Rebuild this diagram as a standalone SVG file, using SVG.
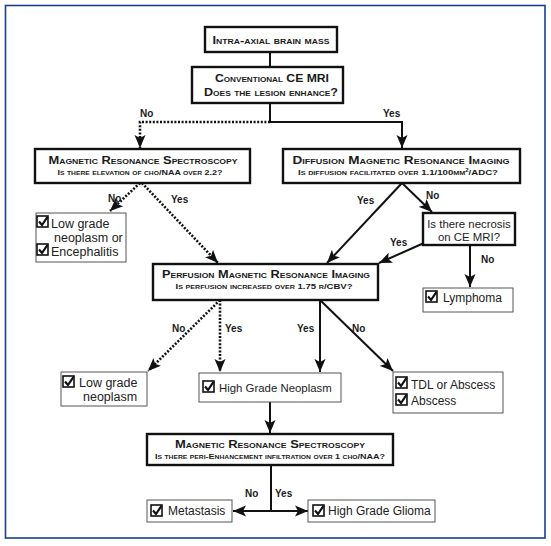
<svg xmlns="http://www.w3.org/2000/svg" width="551" height="546" viewBox="0 0 551 546">
<style>
.frame{fill:#fff;stroke:#1a3f8f;stroke-width:1.6}
.dec{fill:#fff;stroke:#111;stroke-width:2.4}
.leaf{fill:#fff;stroke:#555;stroke-width:1}
.h{font-family:"Liberation Sans",Arial,sans-serif;font-weight:bold;font-variant:small-caps;fill:#1a1a1a;text-anchor:middle}
.t1{font-size:10.5px}
.t2{font-size:8px}
.r{font-family:"Liberation Sans",Arial,sans-serif;font-size:12px;fill:#222}
.rl{font-size:12.5px}
.rs{font-size:11.4px}
.lab{font-family:"Liberation Sans",Arial,sans-serif;font-size:10px;font-weight:bold;fill:#1a1a1a}
.s{fill:none;stroke:#111;stroke-width:2}
.d{fill:none;stroke:#111;stroke-width:2.6;stroke-dasharray:2 1.6}
.cb{fill:#fff;stroke:#111;stroke-width:1.6}
.ck{fill:none;stroke:#111;stroke-width:2.2;stroke-linejoin:miter}
</style>
<defs>
<marker id="ah" markerUnits="userSpaceOnUse" markerWidth="14" markerHeight="12" viewBox="0 0 14 12" refX="13" refY="6" orient="auto">
<path d="M0,0.5 L13,6 L0,11.5 L3,6 Z" fill="#111"/>
</marker>
<g id="chk">
<rect class="cb" x="0" y="0" width="11" height="11"/>
<path class="ck" d="M2,5.5 L5,9 L10.5,0.8"/>
</g>
</defs>
<rect class="frame" x="5.5" y="5.5" width="539.5" height="532.5"/>

<g id="connectors">
<path class="s" d="M270,52 V67"/>
<path class="s" d="M270,103 V122 H402 V148" marker-end="url(#ah)"/>
<path class="d" d="M270,122 H140 V148" marker-end="url(#ah)"/>
<path class="d" d="M140,183 L110,211" marker-end="url(#ah)"/>
<path class="d" d="M142,183 L218,263" marker-end="url(#ah)"/>
<path class="s" d="M402,183 L327,263" marker-end="url(#ah)"/>
<path class="s" d="M402,183 L432,212" marker-end="url(#ah)"/>
<path class="s" d="M424,243 L379,263" marker-end="url(#ah)"/>
<path class="s" d="M470,245 V287" marker-end="url(#ah)"/>
<path class="d" d="M220,300 L148,371" marker-end="url(#ah)"/>
<path class="d" d="M220,300 V372" marker-end="url(#ah)"/>
<path class="s" d="M320,300 V372" marker-end="url(#ah)"/>
<path class="s" d="M320,300 L393,371" marker-end="url(#ah)"/>
<path class="s" d="M270,402 V433" marker-end="url(#ah)"/>
<path class="s" d="M271,465 V511"/>
<path class="s" d="M271,511 H233" marker-end="url(#ah)"/>
<path class="s" d="M271,511 H308" marker-end="url(#ah)"/>
<text class="lab" x="140" y="117">No</text>
<text class="lab" x="383" y="117">Yes</text>
<text class="lab" x="108" y="202">No</text>
<text class="lab" x="171" y="203">Yes</text>
<text class="lab" x="357" y="204">Yes</text>
<text class="lab" x="426" y="199">No</text>
<text class="lab" x="390" y="246">Yes</text>
<text class="lab" x="481" y="263">No</text>
<text class="lab" x="172" y="332">No</text>
<text class="lab" x="225" y="332">Yes</text>
<text class="lab" x="297" y="332">Yes</text>
<text class="lab" x="352" y="332">No</text>
<text class="lab" x="245" y="497">No</text>
<text class="lab" x="275" y="497">Yes</text>
</g>

<g id="n-mass">
<rect class="dec" x="205" y="27" width="132" height="25"/>
<text class="h t1" x="271" y="44" textLength="117" lengthAdjust="spacingAndGlyphs">Intra-axial brain mass</text>
</g>
<g id="n-cemri">
<rect class="dec" x="192" y="67" width="151" height="36"/>
<text class="h t1" x="272" y="82" textLength="114" lengthAdjust="spacingAndGlyphs">Conventional CE MRI</text>
<text class="h t1" x="271" y="96" textLength="134" lengthAdjust="spacingAndGlyphs">Does the lesion enhance?</text>
</g>
<g id="n-mrs1">
<rect class="dec" x="35" y="149" width="215" height="34"/>
<text class="h t1" x="143" y="164" textLength="189" lengthAdjust="spacingAndGlyphs">Magnetic Resonance Spectroscopy</text>
<text class="h t2" x="140" y="175" textLength="165" lengthAdjust="spacingAndGlyphs">Is there elevation of cho/NAA over 2.2?</text>
</g>
<g id="n-dwi">
<rect class="dec" x="283" y="149" width="237" height="34"/>
<text class="h t1" x="401" y="164" textLength="217" lengthAdjust="spacingAndGlyphs">Diffusion  Magnetic Resonance Imaging</text>
<text class="h t2" x="398" y="175" textLength="200" lengthAdjust="spacingAndGlyphs">Is diffusion facilitated over 1.1/100mm<tspan dy="-3" font-size="5">2</tspan><tspan dy="3">/ADC?</tspan></text>
</g>
<g id="n-lowgrade1">
<rect class="leaf" x="36" y="213" width="90" height="49"/>
<use href="#chk" x="37" y="216"/>
<text class="r rl" x="51" y="228">Low grade</text>
<text class="r rl" x="54" y="242">neoplasm or</text>
<use href="#chk" x="37" y="244"/>
<text class="r rl" x="51" y="256">Encephalitis</text>
</g>
<g id="n-necrosis">
<rect class="dec" x="423" y="213" width="92" height="32"/>
<text class="r rs" x="469" y="228" text-anchor="middle">Is there necrosis</text>
<text class="r rs" x="469" y="241" text-anchor="middle">on CE MRI?</text>
</g>
<g id="n-lymphoma">
<rect class="leaf" x="423" y="288" width="90" height="24"/>
<use href="#chk" x="426" y="291"/>
<text class="r" x="443" y="302">Lymphoma</text>
</g>
<g id="n-perfusion">
<rect class="dec" x="153" y="264" width="225" height="36"/>
<text class="h t1" x="266" y="278" textLength="208" lengthAdjust="spacingAndGlyphs">Perfusion Magnetic Resonance Imaging</text>
<text class="h t2" x="264" y="289" textLength="177" lengthAdjust="spacingAndGlyphs">Is perfusion increased over 1.75 r/CBV?</text>
</g>
<g id="n-lowgrade2">
<rect class="leaf" x="61" y="372" width="86" height="34"/>
<use href="#chk" x="63" y="376"/>
<text class="r rl" x="79" y="387">Low grade</text>
<text class="r rl" x="83" y="401">neoplasm</text>
</g>
<g id="n-hgn">
<rect class="leaf" x="199" y="373" width="142" height="29"/>
<use href="#chk" x="203" y="381"/>
<text class="r rs" x="219" y="392">High Grade Neoplasm</text>
</g>
<g id="n-tdl">
<rect class="leaf" x="393" y="372" width="110" height="41"/>
<use href="#chk" x="396" y="377"/>
<text class="r" x="411" y="389">TDL or Abscess</text>
<use href="#chk" x="396" y="394"/>
<text class="r" x="411" y="405">Abscess</text>
</g>
<g id="n-mrs2">
<rect class="dec" x="147" y="434" width="246" height="31"/>
<text class="h t1" x="270" y="448" textLength="190" lengthAdjust="spacingAndGlyphs">Magnetic Resonance Spectroscopy</text>
<text class="h t2" x="270" y="459" textLength="230" lengthAdjust="spacingAndGlyphs">Is there peri-Enhancement  infiltration over 1 cho/NAA?</text>
</g>
<g id="n-metastasis">
<rect class="leaf" x="147" y="500" width="85" height="22"/>
<use href="#chk" x="151" y="505"/>
<text class="r" x="168" y="515">Metastasis</text>
</g>
<g id="n-hgg">
<rect class="leaf" x="308" y="500" width="127" height="22"/>
<use href="#chk" x="313" y="505"/>
<text class="r" x="328" y="515">High Grade Glioma</text>
</g>
</svg>
